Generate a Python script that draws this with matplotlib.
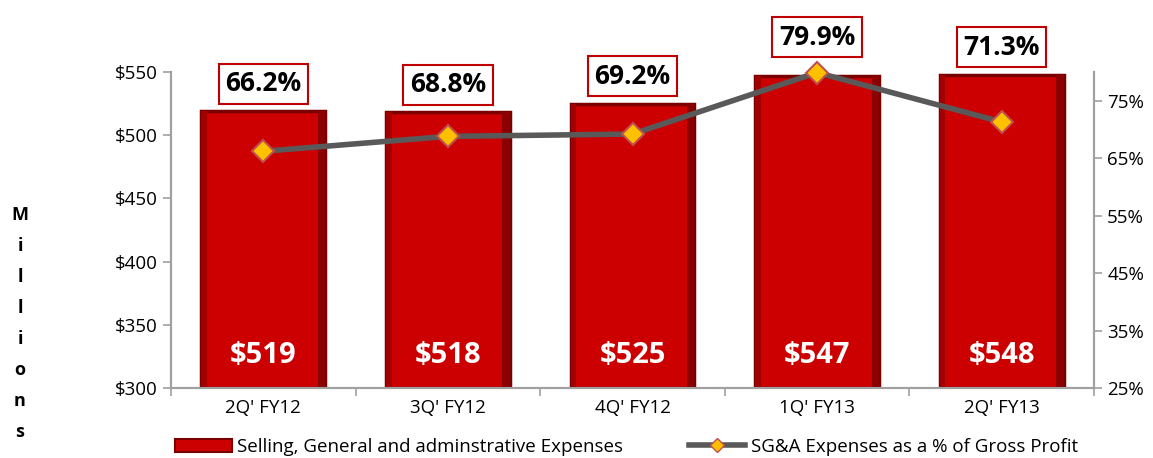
import matplotlib
matplotlib.use("Agg")
import matplotlib.pyplot as plt
from matplotlib.lines import Line2D
from matplotlib.patches import Patch
import numpy as np

categories = ["2Q' FY12", "3Q' FY12", "4Q' FY12", "1Q' FY13", "2Q' FY13"]
sga_values = [519, 518, 525, 547, 548]
pct_values = [66.2, 68.8, 69.2, 79.9, 71.3]
left_ticks = [300, 350, 400, 450, 500, 550]
right_ticks = [25, 35, 45, 55, 65, 75]

plt.rcParams['font.family'] = ['Open Sans', 'DejaVu Sans']

fig = plt.figure(figsize=(11.53, 4.58), dpi=100)
ax = fig.add_axes([171/1153, 1-388/458, (1094-171)/1153, (388-72)/458])
ax2 = ax.twinx()

x = np.arange(len(categories))
bars = ax.bar(x, [v - 300 for v in sga_values], bottom=300, width=0.67,
              color='#CC0000', edgecolor='#7a0000', linewidth=2.5, zorder=2)
for b in bars:
    bx, bw = b.get_x(), b.get_width()
    top = b.get_y() + b.get_height()
    ax.bar(bx + bw - 0.04, top - 300, bottom=300, width=0.04, align='edge',
           color='#8B0000', linewidth=0, zorder=3)
    ax.bar(bx, top - 300, bottom=300, width=0.03, align='edge',
           color='#A00000', linewidth=0, zorder=3)

ax.set_xlim(-0.5, len(categories) - 0.5)
ax.set_ylim(300, 550)
ax.set_yticks(left_ticks)
ax.set_yticklabels([f"${v}" for v in left_ticks], fontsize=13.5)
ax.set_xticks(x)
ax.set_xticklabels(categories, fontsize=13.5)
ax.set_xticks(np.arange(len(categories) + 1) - 0.5, minor=True)
ax.tick_params(axis='x', which='major', length=0, pad=8)
ax.tick_params(axis='x', which='minor', length=6, color='#a0a0a0', width=1.2)
ax.tick_params(axis='y', length=6, color='#a0a0a0', width=1.2)

for a in (ax, ax2):
    a.spines['top'].set_visible(False)
    for sp in ['left', 'right', 'bottom']:
        a.spines[sp].set_color('#a0a0a0')
        a.spines[sp].set_linewidth(1.5)

for xi, v in zip(x, sga_values):
    ax.text(xi, 326, f"${v}", ha='center', va='center', color='white',
            fontsize=21, fontweight='bold', zorder=5)

ax2.set_ylim(25, 80)
ax2.set_yticks(right_ticks)
ax2.set_yticklabels([f"{v}%" for v in right_ticks], fontsize=13.5)
ax2.tick_params(axis='y', length=6, color='#a0a0a0', width=1.2)
ax2.plot(x, pct_values, color='#595959', linewidth=4, marker='D',
         markersize=11, markerfacecolor='#FFC000', markeredgecolor='#C0504D',
         markeredgewidth=1.5, zorder=6, clip_on=False)

for xi, v, p in zip(x, sga_values, pct_values):
    bar_top_disp = ax.transData.transform((xi, v))[1]
    mark_top_disp = ax2.transData.transform((xi, p))[1] + 8
    y_disp = max(bar_top_disp, mark_top_disp)
    y_fig = fig.transFigure.inverted().transform((0, y_disp))[1]
    x_fig = fig.transFigure.inverted().transform(ax.transData.transform((xi, v)))[0]
    fig.text(x_fig, y_fig + 14/458, f"{p:.1f}%", ha='center', va='bottom',
             fontsize=19, fontweight='bold', zorder=7,
             bbox=dict(boxstyle='square,pad=0.25', fc='white', ec='#C00000', lw=1.5))

for i, ch in enumerate("Millions"):
    fig.text(20/1153, 1 - (215 + i * 31) / 458, ch, ha='center', va='center',
             fontsize=13, fontweight='bold')

handles = [Patch(facecolor='#CC0000', edgecolor='#7a0000', linewidth=1.5),
           Line2D([0], [0], color='#595959', linewidth=4, marker='D', markersize=7,
                  markerfacecolor='#FFC000', markeredgecolor='#C0504D')]
labels = ["Selling, General and adminstrative Expenses",
          "SG&A Expenses as a % of Gross Profit"]
fig.legend(handles, labels, loc='center', bbox_to_anchor=(0.5434, 1 - 447/458),
           ncol=2, frameon=False, fontsize=13.5, columnspacing=3.5,
           handlelength=3.0, handletextpad=0.3)

fig.savefig("out.png", dpi=100)
